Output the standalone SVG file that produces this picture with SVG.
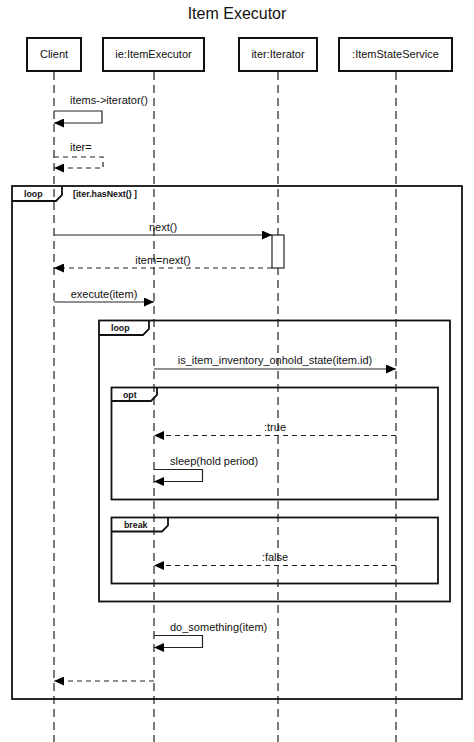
<svg xmlns="http://www.w3.org/2000/svg" width="474" height="742" viewBox="0 0 474 742">
<style>
.t{font-family:"Liberation Sans",Arial,sans-serif;font-size:11px;fill:#111}
.f{font-family:"Liberation Sans",Arial,sans-serif;font-size:8.8px;font-weight:bold;fill:#111}
.box{fill:#fff;stroke:#111;stroke-width:2}
.life{stroke:#333;stroke-width:1.3;stroke-dasharray:8,5;fill:none}
.msg{stroke:#222;stroke-width:1.2;fill:none}
.ret{stroke:#222;stroke-width:1.2;fill:none;stroke-dasharray:5,4}
.frame{fill:none;stroke:#111;stroke-width:1.8}
</style>
<defs>
<marker id="ah" markerWidth="10" markerHeight="9" refX="10" refY="4.5" orient="auto" markerUnits="userSpaceOnUse">
<path d="M0,0 L10,4.5 L0,9 Z" fill="#000"/>
</marker>
</defs>
<rect width="474" height="742" fill="#fff"/>
<text x="237" y="19" text-anchor="middle" style="font-family:'Liberation Sans',Arial,sans-serif;font-size:16px;fill:#111">Item Executor</text>

<g id="lifelines">
<line class="life" x1="54" y1="72" x2="54" y2="742"/>
<line class="life" x1="154" y1="72" x2="154" y2="742"/>
<line class="life" x1="278" y1="72" x2="278" y2="742"/>
<line class="life" x1="396" y1="72" x2="396" y2="742"/>
</g>

<g id="client"><rect class="box" x="27" y="38" width="54" height="33"/><text class="t" x="54" y="58" text-anchor="middle">Client</text></g>
<g id="executor"><rect class="box" x="103" y="38" width="101" height="33"/><text class="t" x="153.5" y="58" text-anchor="middle">ie:ItemExecutor</text></g>
<g id="iterator"><rect class="box" x="239" y="38" width="78" height="33"/><text class="t" x="278" y="58" text-anchor="middle">iter:Iterator</text></g>
<g id="service"><rect class="box" x="339" y="38" width="113" height="33"/><text class="t" x="395.5" y="58" text-anchor="middle">:ItemStateService</text></g>

<g id="frames">
<rect class="frame" x="12" y="186" width="450" height="513"/>
<path class="frame" d="M12,201 L56,201 L62,195 L62,186"/>
<text class="f" x="24" y="197">loop</text>
<text class="f" x="73" y="197">[iter.hasNext() ]</text>

<rect class="frame" x="99" y="320.5" width="351" height="281"/>
<path class="frame" d="M99,335 L143,335 L149,329 L149,320.5"/>
<text class="f" x="111" y="330.5">loop</text>

<rect class="frame" x="111.5" y="387.5" width="326.5" height="112"/>
<path class="frame" d="M111.5,401 L151,401 L157,395 L157,387.5"/>
<text class="f" x="123" y="397.5">opt</text>

<rect class="frame" x="111.5" y="517.5" width="326.5" height="66"/>
<path class="frame" d="M111.5,531.5 L162,531.5 L168,525.5 L168,517.5"/>
<text class="f" x="124" y="527.5">break</text>
</g>

<g id="activation"><rect x="272" y="235" width="12" height="33" fill="#fff" stroke="#222" stroke-width="1.2"/></g>

<g id="connectors">
<path class="msg" d="M54,111 L102,111 L102,123 L54,123" marker-end="url(#ah)"/>
<text class="t" x="70" y="104">items-&gt;iterator()</text>

<path class="ret" d="M54,157 L103,157 L103,168 L54,168" marker-end="url(#ah)"/>
<text class="t" x="70" y="151">iter=</text>

<line class="msg" x1="54" y1="235" x2="272" y2="235" marker-end="url(#ah)"/>
<text class="t" x="163" y="231" text-anchor="middle">next()</text>

<line class="ret" x1="272" y1="268" x2="54" y2="268" marker-end="url(#ah)"/>
<text class="t" x="163" y="264" text-anchor="middle">item=next()</text>

<line class="msg" x1="54" y1="302" x2="154" y2="302" marker-end="url(#ah)"/>
<text class="t" x="104" y="298" text-anchor="middle">execute(item)</text>

<line class="msg" x1="154" y1="369" x2="396" y2="369" marker-end="url(#ah)"/>
<text class="t" x="275" y="364" text-anchor="middle">is_item_inventory_onhold_state(item.id)</text>

<line class="ret" x1="396" y1="435.5" x2="154" y2="435.5" marker-end="url(#ah)"/>
<text class="t" x="275" y="431" text-anchor="middle">:true</text>

<path class="msg" d="M154,469.5 L202.5,469.5 L202.5,481.5 L154,481.5" marker-end="url(#ah)"/>
<text class="t" x="170" y="465">sleep(hold period)</text>

<line class="ret" x1="396" y1="565.5" x2="154" y2="565.5" marker-end="url(#ah)"/>
<text class="t" x="275" y="561" text-anchor="middle">:false</text>

<path class="msg" d="M154,635.5 L202.5,635.5 L202.5,647.5 L154,647.5" marker-end="url(#ah)"/>
<text class="t" x="170" y="631">do_something(item)</text>

<line class="ret" x1="154" y1="681" x2="54" y2="681" marker-end="url(#ah)"/>
</g>
</svg>
